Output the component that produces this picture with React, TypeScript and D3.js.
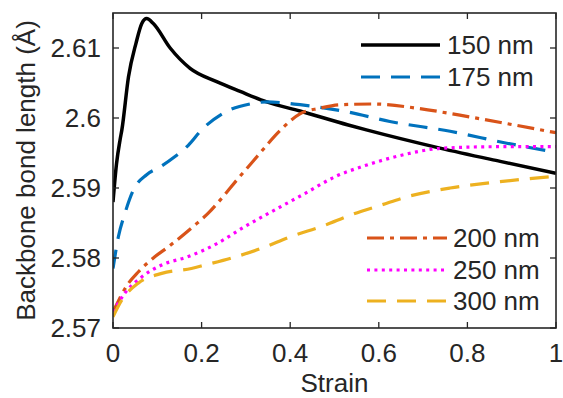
import React from "react";
import * as d3 from "d3";

const xTicks = [0, 0.2, 0.4, 0.6, 0.8, 1];
const yTicks = [2.57, 2.58, 2.59, 2.6, 2.61];
const yTickLabels = ["2.57", "2.58", "2.59", "2.6", "2.61"];
const xTickLabels = ["0", "0.2", "0.4", "0.6", "0.8", "1"];

const s150x = [0, 0.008, 0.016, 0.02, 0.035, 0.052, 0.065, 0.076, 0.091, 0.129, 0.174, 0.234, 0.287, 0.347, 0.422, 0.531, 0.572, 0.738, 0.874, 1.0];
const s150y = [2.588, 2.5935, 2.5969, 2.5983, 2.6059, 2.6107, 2.6135, 2.6142, 2.6135, 2.61, 2.6071, 2.6052, 2.6038, 2.6023, 2.601, 2.599, 2.5983, 2.5957, 2.5938, 2.5921];

const s175x = [0, 0.012, 0.027, 0.046, 0.076, 0.106, 0.14, 0.17, 0.2, 0.249, 0.309, 0.347, 0.422, 0.527, 0.625, 0.761, 0.889, 1.0];
const s175y = [2.5785, 2.583, 2.5864, 2.5897, 2.5919, 2.593, 2.5945, 2.5961, 2.5983, 2.6007, 2.602, 2.6023, 2.6019, 2.6009, 2.5995, 2.5981, 2.5964, 2.5951];

const s200x = [0, 0.035, 0.057, 0.095, 0.125, 0.181, 0.215, 0.249, 0.279, 0.305, 0.328, 0.377, 0.422, 0.467, 0.512, 0.588, 0.686, 0.783, 0.889, 1.0];
const s200y = [2.5723, 2.5764, 2.578, 2.5802, 2.5816, 2.5845, 2.5864, 2.5888, 2.5911, 2.593, 2.5947, 2.5982, 2.6006, 2.6014, 2.6019, 2.602, 2.6014, 2.6004, 2.5992, 2.5979];

const s250x = [0, 0.027, 0.065, 0.11, 0.17, 0.23, 0.298, 0.366, 0.433, 0.501, 0.569, 0.646, 0.746, 0.874, 1.0];
const s250y = [2.5723, 2.575, 2.5773, 2.579, 2.5802, 2.5819, 2.5845, 2.5869, 2.5892, 2.5916, 2.5932, 2.5946, 2.5957, 2.5959, 2.5959];

const s300x = [0, 0.02, 0.057, 0.11, 0.177, 0.208, 0.268, 0.336, 0.403, 0.471, 0.539, 0.607, 0.661, 0.761, 0.874, 1.0];
const s300y = [2.5716, 2.574, 2.5764, 2.5778, 2.5785, 2.579, 2.58, 2.5814, 2.5831, 2.5845, 2.5862, 2.5876, 2.5887, 2.59, 2.5909, 2.5917];

const seriesNames = ["150 nm", "175 nm", "200 nm", "250 nm", "300 nm"];
const seriesColors = ["#000000", "#0072BD", "#D95319", "#FF00FF", "#EDB120"];
const seriesDash = ["none", "19,11", "17,6,4,6", "3,4.4", "19,11"];
const seriesWidth = [3.5, 3.2, 3.2, 3.2, 3.2];
const seriesX = [s150x, s175x, s200x, s250x, s300x];
const seriesY = [s150y, s175y, s200y, s250y, s300y];

const W = 563;
const H = 398;
const L = 113;
const R = 556;
const T = 13;
const B = 328;
const FONT = "'Liberation Sans', Arial, sans-serif";
const TXT = "#262626";
const FS = 26;

export default function App() {
  const x = d3.scaleLinear().domain([0, 1]).range([L, R]);
  const y = d3.scaleLinear().domain([2.57, 2.615]).range([B, T]);
  const line = d3
    .line<[number, number]>()
    .x((d) => x(d[0]))
    .y((d) => y(d[1]))
    .curve(d3.curveMonotoneX);

  const legend1 = [0, 1];
  const legend1Y = [45, 77];
  const legend2 = [2, 3, 4];
  const legend2Y = [238, 270, 301];

  return (
    <svg
      width={W}
      height={H}
      style={{ position: "absolute", left: 0, top: 0, background: "#fff" }}
      fontFamily={FONT}
    >
      <rect x={0} y={0} width={W} height={H} fill="#fff" />
      <defs>
        <clipPath id="plotclip">
          <rect x={L} y={T} width={R - L} height={B - T} />
        </clipPath>
      </defs>
      <g clipPath="url(#plotclip)">
        {seriesX.map((xs, i) => (
          <path
            key={i}
            d={line(xs.map((v, j) => [v, seriesY[i][j]] as [number, number])) || ""}
            fill="none"
            stroke={seriesColors[i]}
            strokeWidth={seriesWidth[i]}
            strokeDasharray={seriesDash[i]}
            strokeLinejoin="round"
          />
        ))}
      </g>
      <rect x={L} y={T} width={R - L} height={B - T} fill="none" stroke={TXT} strokeWidth={1.6} />
      {xTicks.map((t, i) => (
        <g key={"xt" + i}>
          <line x1={x(t)} x2={x(t)} y1={B} y2={B - 6} stroke={TXT} strokeWidth={1.3} />
          <line x1={x(t)} x2={x(t)} y1={T} y2={T + 6} stroke={TXT} strokeWidth={1.3} />
          <text x={x(t)} y={B + 34} textAnchor="middle" fontSize={FS} fill={TXT}>
            {xTickLabels[i]}
          </text>
        </g>
      ))}
      {yTicks.map((t, i) => (
        <g key={"yt" + i}>
          <line x1={L} x2={L + 6} y1={y(t)} y2={y(t)} stroke={TXT} strokeWidth={1.3} />
          <line x1={R} x2={R - 6} y1={y(t)} y2={y(t)} stroke={TXT} strokeWidth={1.3} />
          <text x={101} y={y(t)} dy="0.36em" textAnchor="end" fontSize={FS} fill={TXT}>
            {yTickLabels[i]}
          </text>
        </g>
      ))}
      <text x={(L + R) / 2} y={392} textAnchor="middle" fontSize={FS} fill={TXT}>
        Strain
      </text>
      <text
        transform={`translate(35,${(T + B) / 2}) rotate(-90)`}
        textAnchor="middle"
        fontSize={FS}
        fill={TXT}
      >
        Backbone bond length (Å)
      </text>
      {legend1.map((si, k) => (
        <g key={"l1" + k}>
          <line x1={361} x2={440} y1={legend1Y[k]} y2={legend1Y[k]} stroke={seriesColors[si]} strokeWidth={seriesWidth[si]} strokeDasharray={seriesDash[si]} />
          <text x={447} y={legend1Y[k]} dy="0.36em" fontSize={FS} fill={TXT}>
            {seriesNames[si]}
          </text>
        </g>
      ))}
      {legend2.map((si, k) => (
        <g key={"l2" + k}>
          <line x1={367} x2={447} y1={legend2Y[k]} y2={legend2Y[k]} stroke={seriesColors[si]} strokeWidth={seriesWidth[si]} strokeDasharray={seriesDash[si]} />
          <text x={453} y={legend2Y[k]} dy="0.36em" fontSize={FS} fill={TXT}>
            {seriesNames[si]}
          </text>
        </g>
      ))}
    </svg>
  );
}
